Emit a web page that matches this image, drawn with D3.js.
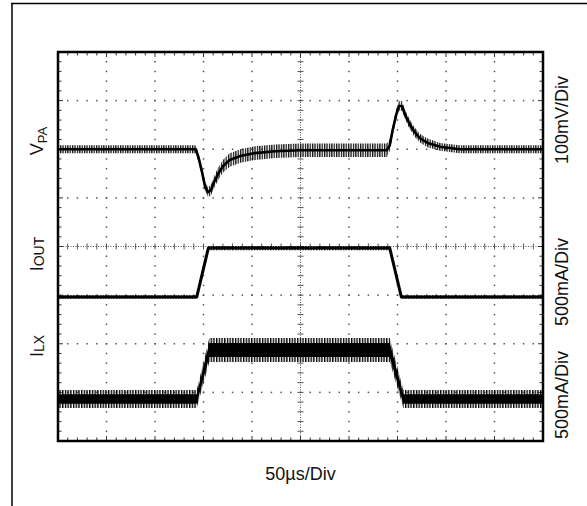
<!DOCTYPE html>
<html><head><meta charset="utf-8">
<script src="https://cdn.jsdelivr.net/npm/d3@7"></script>
<style>
html,body{margin:0;padding:0;background:#fff;}
svg{display:block;}
text{font-family:"Liberation Sans",Arial,sans-serif;fill:#111;}
</style></head>
<body>
<svg id="chart" width="587" height="506"></svg>
<script>
// ---------- data ----------
// time axis: 50 µs/div, 10 divisions
const timeTicks = [0,50,100,150,200,250,300,350,400,450,500];
const xLabel = "50µs/Div";
// channel labels
const channelNames = [["V","PA"],["I","OUT"],["I","LX"]];
const channelScales = ["100mV/Div","500mA/Div","500mA/Div"];

// VPA (mV, relative to its reference line), ripple = half band height
const vpaTime   = [0,142,145,148.5,151.5,154.6,157.7,160.8,165,170,177,188,203,224,250,339,342,345,348.5,351.5,354.6,357.7,361.9,367,373,381,394,414,500];
const vpaMean   = [0,0,-18,-47,-76,-88,-84,-68,-51,-35,-22,-14,-8,-4,-2,-2,8,39,70,89,89,72,54,37,23,13,5,0,0];
const vpaRipple = [8,8,9,10,10,10,11,12,13,13,14,14,14,14,14,14,12,10,10,10,10,10,10,10,9,9,8,8,8];

// IOUT (mA)
const ioutTime   = [0,143,155,342,354,500];
const ioutMean   = [-20,-20,484,484,-20,-20];
const ioutRipple = [18,18,22,22,18,18];

// ILX (mA)
const ilxTime  = [0,143,156,342,356,500];
const ilxMean  = [432,432,935,935,432,432];
const ilxCore  = [50,50,72,72,50,50];
const ilxSpike = [92,92,123,123,92,92];

// ---------- layout ----------
const svg = d3.select("#chart");
const L=58, R=543, T=52, B=441;
const x = d3.scaleLinear().domain([0,500]).range([L,R]);
const yDiv = d3.scaleLinear().domain([0,8]).range([B,T]);
// channel mapping: value -> screen
const vpaY  = d3.scaleLinear().domain([0,100]).range([yDiv(6),yDiv(7)]);
const ioutY = d3.scaleLinear().domain([0,500]).range([yDiv(3),yDiv(4)]);
const ilxY  = d3.scaleLinear().domain([0,500]).range([yDiv(0),yDiv(1)]);

// outer frame
svg.append("line").attr("x1",11).attr("x2",587).attr("y1",3.5).attr("y2",3.5).attr("stroke","#000").attr("stroke-width",1.5);
svg.append("line").attr("x1",12).attr("x2",12).attr("y1",3).attr("y2",506).attr("stroke","#000").attr("stroke-width",1.5);

// patterns for ripple texture
const defs = svg.append("defs");
const pat = defs.append("pattern").attr("id","stripes").attr("patternUnits","userSpaceOnUse")
  .attr("width",2.7).attr("height",10);
pat.append("rect").attr("x",0).attr("y",0).attr("width",1.4).attr("height",10).attr("fill","#000");
const pat2 = defs.append("pattern").attr("id","stripes2").attr("patternUnits","userSpaceOnUse")
  .attr("width",2.4).attr("height",10);
pat2.append("rect").attr("x",0).attr("y",0).attr("width",1.3).attr("height",10).attr("fill","#111");

const g = svg.append("g");

// grid: dotted major lines
const minorT = d3.range(0,500.01,10);
const minorD = d3.range(0,8.001,0.2);
const gridG = g.append("g");
timeTicks.slice(1,-1).forEach(t=>{
  if (t===250) return;
  minorD.forEach(d=>{
    gridG.append("rect").attr("x",x(t)-0.75).attr("y",yDiv(d)-0.75).attr("width",1.5).attr("height",1.5).attr("fill","#555");
  });
});
d3.range(1,8).forEach(d=>{
  if (d===4) return;
  minorT.forEach(t=>{
    gridG.append("rect").attr("x",x(t)-0.75).attr("y",yDiv(d)-0.75).attr("width",1.5).attr("height",1.5).attr("fill","#555");
  });
});
// center cross axes
gridG.append("line").attr("x1",x(250)).attr("x2",x(250)).attr("y1",T).attr("y2",B)
  .attr("stroke","#555").attr("stroke-width",1).attr("stroke-dasharray","1,1.5");
gridG.append("line").attr("x1",L).attr("x2",R).attr("y1",yDiv(4)).attr("y2",yDiv(4))
  .attr("stroke","#555").attr("stroke-width",1).attr("stroke-dasharray","1,1.5");
minorD.forEach(d=>{
  gridG.append("line").attr("x1",x(250)-3).attr("x2",x(250)+3).attr("y1",yDiv(d)).attr("y2",yDiv(d)).attr("stroke","#444").attr("stroke-width",0.9);
});
minorT.forEach(t=>{
  gridG.append("line").attr("x1",x(t)).attr("x2",x(t)).attr("y1",yDiv(4)-3).attr("y2",yDiv(4)+3).attr("stroke","#444").attr("stroke-width",0.9);
});
// border ticks
minorT.forEach((t,i)=>{
  const len = (i%5===0)?5:3.5;
  gridG.append("line").attr("x1",x(t)).attr("x2",x(t)).attr("y1",T).attr("y2",T+len).attr("stroke","#333").attr("stroke-width",1);
  gridG.append("line").attr("x1",x(t)).attr("x2",x(t)).attr("y1",B).attr("y2",B-len).attr("stroke","#333").attr("stroke-width",1);
});
minorD.forEach((d,i)=>{
  const len = (i%5===0)?5:3.5;
  gridG.append("line").attr("x1",L).attr("x2",L+len).attr("y1",yDiv(d)).attr("y2",yDiv(d)).attr("stroke","#333").attr("stroke-width",1);
  gridG.append("line").attr("x1",R).attr("x2",R-len).attr("y1",yDiv(d)).attr("y2",yDiv(d)).attr("stroke","#333").attr("stroke-width",1);
});

// ---------- traces ----------
function drawTrace(times, mean, half, ys, fill){
  const idx = d3.range(times.length);
  const area = d3.area().x(i=>x(times[i])).y0(i=>ys(mean[i]-half[i])).y1(i=>ys(mean[i]+half[i]));
  g.append("path").attr("d",area(idx)).attr("fill",fill).attr("stroke","none");
}
function drawLine(times, mean, ys, w){
  const idx = d3.range(times.length);
  const line = d3.line().x(i=>x(times[i])).y(i=>ys(mean[i]));
  g.append("path").attr("d",line(idx)).attr("fill","none").attr("stroke","#000").attr("stroke-width",w).attr("stroke-linejoin","round");
}
// VPA
drawTrace(vpaTime, vpaMean, vpaRipple, vpaY, "url(#stripes2)");
drawLine(vpaTime, vpaMean, vpaY, 2.6);
// IOUT
drawTrace(ioutTime, ioutMean, ioutRipple, ioutY, "url(#stripes)");
drawLine(ioutTime, ioutMean, ioutY, 3);
// ILX
drawTrace(ilxTime, ilxMean, ilxSpike, ilxY, "url(#stripes)");
drawTrace(ilxTime, ilxMean, ilxCore, ilxY, "#000");

// plot border
svg.append("rect").attr("x",L).attr("y",T).attr("width",R-L).attr("height",B-T)
  .attr("fill","none").attr("stroke","#000").attr("stroke-width",2.5);

// ---------- labels ----------
const leftY = [141, 254, 346];
channelNames.forEach((n,i)=>{
  const t = svg.append("text").attr("transform",`translate(43,${leftY[i]}) rotate(-90)`)
    .attr("text-anchor","middle").attr("font-size",18);
  t.append("tspan").text(n[0]);
  t.append("tspan").attr("font-size",i===0?13:14).attr("dy",i===0?4:1).text(n[1]);
});
const rightY = [120, 282, 395];
channelScales.forEach((s,i)=>{
  svg.append("text").attr("transform",`translate(568,${rightY[i]}) rotate(-90)`)
    .attr("text-anchor","middle").attr("font-size",18).text(s);
});
svg.append("text").attr("x",x(250)).attr("y",480).attr("text-anchor","middle").attr("font-size",18).text(xLabel);
</script>
</body></html>
